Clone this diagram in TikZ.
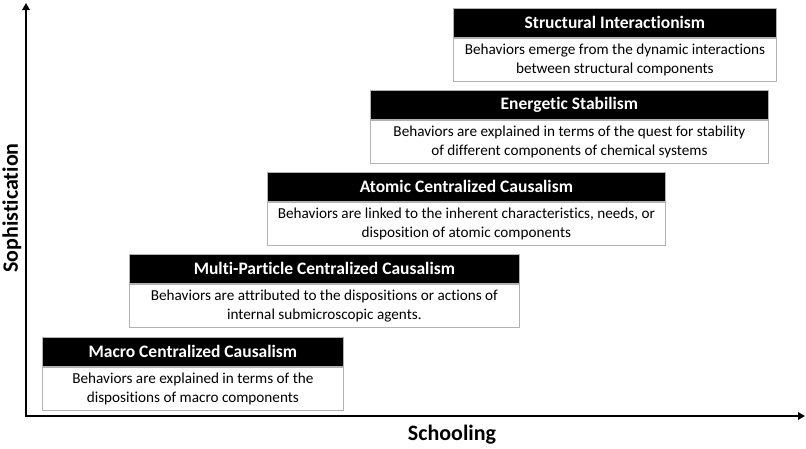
\documentclass[tikz,border=0pt]{standalone}
\usepackage{fontspec}
\setmainfont{Carlito}[Ligatures=CommonOff]
\usetikzlibrary{arrows.meta}
\begin{document}
\begin{tikzpicture}[x=1pt,y=-1pt,
  titlebar/.style={fill=black, draw=gray!60, line width=0.8pt, text=white,
    font=\bfseries\fontsize{17.5}{20}\selectfont, anchor=north west,
    minimum height=29pt, inner sep=0pt},
  descbox/.style={fill=white, draw=gray!60, line width=0.8pt,
    font=\fontsize{15.2}{19}\selectfont, align=center, anchor=north west,
    minimum height=43pt, inner sep=0pt},
  axislabel/.style={font=\bfseries\fontsize{22}{26}\selectfont},
  axisline/.style={line width=2.6pt, line join=miter,
    {Triangle[length=7pt,width=7.5pt]}-{Triangle[length=7pt,width=7.5pt]}}
]
\useasboundingbox (0,0) rectangle (806,448);

% axes
\coordinate (ytop) at (26,3);
\coordinate (orig) at (26,416);
\coordinate (xend) at (805,416);
\draw[axisline] (ytop) -- (orig) -- (xend);
\node[axislabel, rotate=90] (ylab) at (12,208) {Sophistication};
\node[axislabel] (xlab) at (452,435) {Schooling};

% Macro
\node[titlebar, minimum width=301pt] (t1) at (42,337) {Macro Centralized Causalism};
\node[descbox, minimum width=301pt] (d1) at (t1.south west)
  {Behaviors are explained in terms of the\\dispositions of macro components};

% Multi-Particle
\node[titlebar, minimum width=390pt] (t2) at (129,254) {Multi-Particle Centralized Causalism};
\node[descbox, minimum width=390pt] (d2) at (t2.south west)
  {Behaviors are attributed to the dispositions or actions of\\internal submicroscopic agents.};

% Atomic
\node[titlebar, minimum width=398pt] (t3) at (267,172) {Atomic Centralized Causalism};
\node[descbox, minimum width=398pt] (d3) at (t3.south west)
  {Behaviors are linked to the inherent characteristics, needs, or\\disposition of atomic components};

% Energetic
\node[titlebar, minimum width=398pt] (t4) at (370,90) {Energetic Stabilism};
\node[descbox, minimum width=398pt] (d4) at (t4.south west)
  {Behaviors are explained in terms of the quest for stability\\of different components of chemical systems};

% Structural
\node[titlebar, minimum width=323pt] (t5) at (453,8) {Structural Interactionism};
\node[descbox, minimum width=323pt] (d5) at (t5.south west)
  {Behaviors emerge from the dynamic interactions\\between structural components};
\end{tikzpicture}
\end{document}
